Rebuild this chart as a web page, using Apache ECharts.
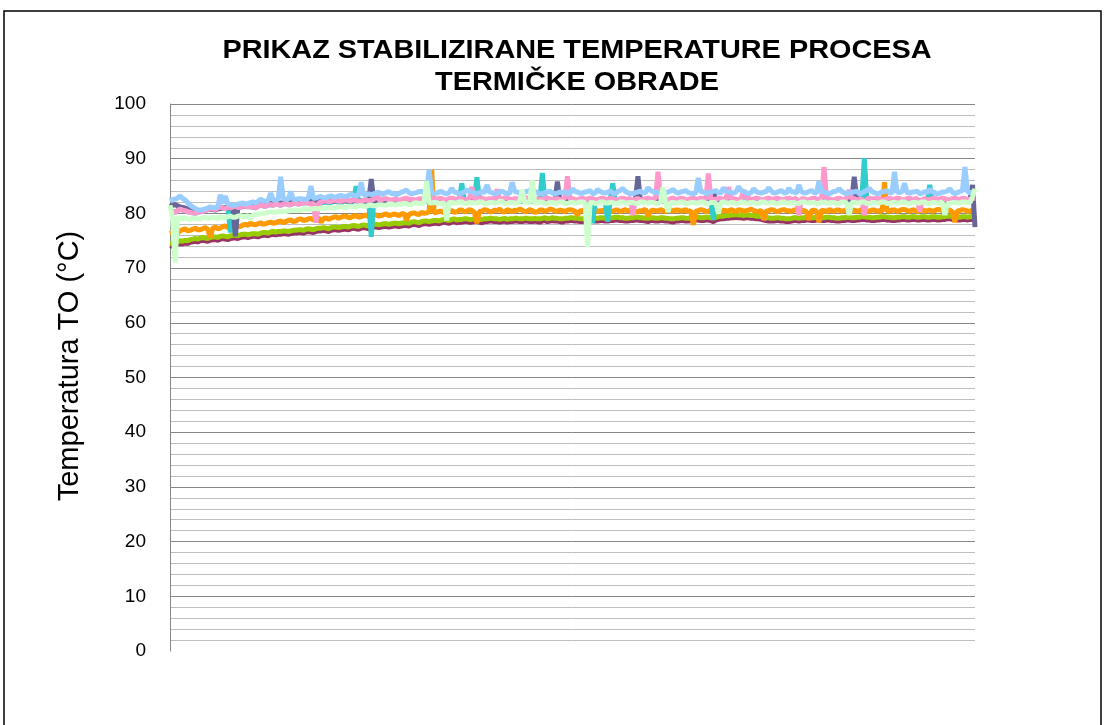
<!DOCTYPE html>
<html>
<head>
<meta charset="utf-8">
<title>Prikaz stabilizirane temperature procesa termičke obrade</title>
<script src="https://cdn.jsdelivr.net/npm/echarts@6/dist/echarts.min.js"></script>
<style>
  html, body { margin: 0; padding: 0; background: #fff; }
  #chart { width: 1106px; height: 725px; }
</style>
</head>
<body>
<div id="chart"></div>
<script>
// Temperature readings (°C) of the heat-treatment process, one array per measuring channel,
// 321 consecutive samples each.
const yTicks = [0, 10, 20, 30, 40, 50, 60, 70, 80, 90, 100];

const tMaroon = [
  74.1, 74.0, 74.2, 74.3, 74.5, 74.4, 74.6, 74.5, 74.7, 74.8, 74.9, 74.8, 75.0, 75.1, 75.0, 74.9, 75.1, 75.2, 75.2, 75.1,
  75.3, 75.4, 75.3, 75.2, 75.4, 75.5, 75.5, 75.4, 75.6, 75.7, 75.7, 75.6, 75.7, 75.8, 75.8, 75.7, 75.9, 76.0, 76.0, 75.9,
  76.1, 76.2, 76.1, 76.2, 76.2, 76.3, 76.3, 76.2, 76.3, 76.4, 76.4, 76.5, 76.5, 76.4, 76.6, 76.7, 76.6, 76.5, 76.7, 76.8,
  76.8, 76.9, 76.8, 76.7, 76.9, 77.0, 77.0, 76.9, 77.0, 77.1, 77.1, 77.0, 77.2, 77.3, 77.2, 77.1, 77.3, 77.4, 77.3, 77.2,
  77.4, 77.5, 77.5, 77.4, 77.5, 77.6, 77.6, 77.5, 77.6, 77.7, 77.7, 77.6, 77.7, 77.8, 77.8, 77.7, 77.9, 78.0, 77.9, 77.8,
  78.0, 78.1, 78.1, 78.0, 78.1, 78.2, 78.2, 78.1, 78.3, 78.4, 78.3, 78.2, 78.4, 78.5, 78.3, 78.4, 78.4, 78.5, 78.5, 78.4,
  78.4, 78.5, 78.5, 78.4, 78.3, 78.5, 78.5, 78.6, 78.6, 78.5, 78.5, 78.4, 78.5, 78.6, 78.4, 78.5, 78.5, 78.6, 78.6, 78.5,
  78.5, 78.6, 78.6, 78.5, 78.5, 78.6, 78.5, 78.4, 78.6, 78.7, 78.5, 78.6, 78.7, 78.6, 78.6, 78.5, 78.4, 78.6, 78.6, 78.7,
  78.7, 78.6, 78.6, 78.5, 78.5, 78.6, 78.6, 78.7, 78.7, 78.6, 78.6, 78.7, 78.7, 78.6, 78.6, 78.7, 78.7, 78.8, 78.8, 78.7,
  78.7, 78.6, 78.6, 78.7, 78.7, 78.8, 78.8, 78.7, 78.7, 78.6, 78.5, 78.7, 78.7, 78.6, 78.6, 78.7, 78.7, 78.6, 78.6, 78.5,
  78.4, 78.6, 78.6, 78.7, 78.7, 78.6, 78.6, 78.7, 78.7, 78.8, 78.8, 78.7, 78.7, 78.8, 78.8, 78.7, 78.5, 78.8, 78.9, 79.0,
  79.0, 79.1, 79.1, 79.2, 79.2, 79.3, 79.2, 79.2, 79.1, 79.2, 79.2, 79.1, 79.1, 79.0, 79.0, 78.9, 78.8, 78.7, 78.6, 78.6,
  78.6, 78.7, 78.7, 78.6, 78.6, 78.5, 78.5, 78.6, 78.7, 78.7, 78.6, 78.7, 78.7, 78.8, 78.8, 78.7, 78.7, 78.8, 78.8, 78.7,
  78.7, 78.8, 78.8, 78.7, 78.7, 78.6, 78.6, 78.7, 78.7, 78.8, 78.8, 78.7, 78.7, 78.8, 78.8, 78.9, 78.9, 78.8, 78.8, 78.7,
  78.7, 78.8, 78.8, 78.9, 78.9, 78.8, 78.8, 78.7, 78.7, 78.8, 78.8, 78.9, 78.9, 78.8, 78.8, 78.9, 78.9, 78.8, 78.8, 78.9,
  78.9, 78.8, 78.8, 78.9, 78.9, 78.8, 78.8, 78.9, 78.9, 79.0, 79.0, 78.9, 78.9, 78.8, 78.8, 78.9, 78.9, 78.8, 78.9, 78.9,
  78.9
];

const tGreen = [
  74.6, 74.5, 74.7, 74.8, 75.0, 74.9, 75.1, 75.0, 75.2, 75.3, 75.4, 75.3, 75.5, 75.6, 75.5, 75.4, 75.6, 75.7, 75.7, 75.6,
  75.8, 75.9, 75.8, 75.7, 75.9, 76.0, 76.0, 75.9, 76.1, 76.2, 76.2, 76.1, 76.2, 76.3, 76.3, 76.2, 76.4, 76.5, 76.5, 76.4,
  76.6, 76.7, 76.6, 76.7, 76.7, 76.8, 76.8, 76.7, 76.8, 76.9, 76.9, 77.0, 77.0, 76.9, 77.1, 77.2, 77.1, 77.0, 77.2, 77.3,
  77.3, 77.4, 77.3, 77.2, 77.4, 77.5, 77.5, 77.4, 77.5, 77.6, 77.6, 77.5, 77.7, 77.8, 77.7, 77.6, 77.8, 77.9, 77.8, 77.7,
  77.9, 78.0, 78.0, 77.9, 78.0, 78.1, 78.1, 78.0, 78.1, 78.2, 78.2, 78.1, 78.2, 78.3, 78.3, 78.2, 78.4, 78.5, 78.4, 78.3,
  78.5, 78.6, 78.6, 78.5, 78.6, 78.7, 78.7, 78.6, 78.8, 78.9, 78.8, 78.7, 78.9, 79.0, 78.8, 78.9, 78.9, 79.0, 79.0, 78.9,
  78.9, 79.0, 79.0, 78.9, 78.9, 79.0, 79.0, 79.1, 79.1, 79.0, 79.0, 78.9, 79.0, 79.1, 78.9, 79.0, 79.0, 79.1, 79.1, 79.0,
  79.0, 79.1, 79.1, 79.0, 79.0, 79.1, 79.0, 79.0, 79.1, 79.2, 79.0, 79.1, 79.2, 79.1, 79.1, 79.0, 79.0, 79.1, 79.1, 79.2,
  79.2, 79.1, 79.1, 79.0, 79.0, 79.1, 79.1, 79.2, 79.2, 79.1, 79.1, 79.2, 79.2, 79.1, 79.1, 79.2, 79.2, 79.3, 79.3, 79.2,
  79.2, 79.1, 79.1, 79.2, 79.2, 79.3, 79.3, 79.2, 79.2, 79.1, 79.1, 79.2, 79.2, 79.1, 79.1, 79.2, 79.2, 79.1, 79.1, 79.0,
  79.0, 79.1, 79.1, 79.2, 79.2, 79.1, 79.1, 79.2, 79.2, 79.3, 79.3, 79.2, 79.2, 79.3, 79.3, 79.2, 79.2, 79.3, 79.4, 79.5,
  79.5, 79.6, 79.6, 79.7, 79.7, 79.8, 79.7, 79.7, 79.6, 79.7, 79.7, 79.6, 79.6, 79.5, 79.5, 79.4, 79.3, 79.2, 79.2, 79.1,
  79.1, 79.2, 79.2, 79.1, 79.1, 79.0, 79.0, 79.1, 79.2, 79.2, 79.1, 79.2, 79.2, 79.3, 79.3, 79.2, 79.2, 79.3, 79.3, 79.2,
  79.2, 79.3, 79.3, 79.2, 79.2, 79.1, 79.1, 79.2, 79.2, 79.3, 79.3, 79.2, 79.2, 79.3, 79.3, 79.4, 79.4, 79.3, 79.3, 79.2,
  79.2, 79.3, 79.3, 79.4, 79.4, 79.3, 79.3, 79.2, 79.2, 79.3, 79.3, 79.4, 79.4, 79.3, 79.3, 79.4, 79.4, 79.3, 79.3, 79.4,
  79.4, 79.3, 79.3, 79.4, 79.4, 79.3, 79.3, 79.4, 79.4, 79.5, 79.5, 79.4, 79.4, 79.3, 79.3, 79.4, 79.4, 79.3, 79.4, 79.4,
  79.4
];

const tOrange = [
  76.3, 76.5, 76.0, 76.4, 76.8, 77.0, 77.2, 76.8, 76.9, 77.1, 77.3, 77.0, 77.0, 77.2, 77.4, 77.1, 75.6, 77.3, 77.5, 77.2,
  77.3, 77.6, 77.7, 77.4, 77.5, 77.8, 77.9, 77.6, 77.6, 77.9, 78.0, 77.8, 78.2, 78.0, 77.9, 78.1, 78.3, 78.0, 78.1, 78.3,
  78.4, 78.2, 78.3, 78.5, 78.6, 78.3, 78.5, 78.7, 78.8, 78.5, 78.6, 78.9, 79.0, 78.7, 78.8, 79.0, 79.1, 78.8, 79.0, 79.2,
  78.4, 79.0, 79.2, 78.9, 79.1, 79.3, 79.4, 79.1, 79.3, 79.5, 79.5, 79.2, 79.3, 79.5, 79.6, 79.3, 79.4, 79.6, 79.7, 79.4,
  79.5, 79.7, 79.7, 79.5, 79.6, 79.8, 79.9, 79.6, 79.7, 79.9, 79.8, 79.6, 79.9, 80.0, 78.8, 79.8, 80.0, 80.1, 79.9, 79.8,
  80.2, 80.0, 80.1, 80.3, 88.0, 80.1, 80.2, 80.4, 80.4, 80.1, 80.3, 80.5, 80.5, 80.2, 80.3, 80.6, 80.6, 80.3, 80.4, 80.7,
  80.5, 80.2, 78.2, 80.4, 80.4, 80.7, 80.6, 80.3, 80.3, 80.6, 80.5, 80.8, 80.4, 80.2, 80.7, 80.5, 80.3, 80.6, 80.5, 80.8,
  80.6, 80.3, 80.4, 80.7, 80.5, 80.2, 80.3, 80.6, 80.6, 80.4, 80.5, 80.8, 80.7, 80.4, 80.4, 80.6, 80.5, 80.3, 80.6, 80.7,
  80.6, 80.4, 79.7, 80.5, 80.5, 80.7, 80.4, 80.3, 80.6, 80.8, 80.3, 80.5, 80.5, 80.7, 80.7, 80.4, 80.4, 80.6, 80.6, 80.3,
  80.5, 80.7, 80.4, 80.6, 80.6, 80.3, 80.3, 80.5, 80.5, 80.8, 79.5, 80.4, 80.6, 80.5, 80.4, 80.7, 80.5, 80.3, 80.7, 80.6,
  80.4, 80.6, 80.6, 80.4, 80.5, 80.7, 80.3, 80.5, 77.9, 80.4, 80.5, 80.7, 80.6, 80.3, 80.4, 80.6, 80.7, 80.5, 80.5, 80.3,
  80.6, 80.5, 80.4, 80.7, 80.5, 80.3, 80.7, 80.6, 80.4, 80.5, 80.6, 80.8, 80.5, 80.4, 80.3, 80.6, 78.8, 80.4, 80.5, 80.7,
  80.6, 80.3, 80.4, 80.6, 80.7, 80.5, 80.5, 80.3, 80.6, 80.7, 80.4, 80.6, 80.5, 80.3, 78.8, 80.5, 80.6, 80.4, 78.4, 80.6,
  80.5, 80.3, 80.7, 80.5, 80.4, 80.6, 80.6, 80.4, 80.5, 80.7, 80.3, 80.5, 80.6, 80.4, 80.5, 80.7, 80.7, 80.5, 80.4, 80.6,
  80.6, 80.4, 80.5, 80.3, 85.7, 80.5, 80.4, 80.6, 80.6, 80.4, 80.5, 80.7, 80.7, 80.5, 80.4, 80.6, 80.6, 80.3, 80.5, 80.7,
  80.4, 80.5, 80.6, 80.4, 80.5, 80.7, 80.7, 80.5, 80.4, 80.6, 80.6, 80.3, 78.4, 80.5, 80.5, 80.7, 80.6, 80.4, 80.4, 80.6,
  80.5
];

const tTeal = [
  80.6, 80.4, 80.2, 80.5, 80.8, 80.6, 80.5, 80.3, 80.2, 80.1, 80.0, 80.2, 80.3, 80.4, 80.5, 80.7, 81.0, 80.8, 80.7, 81.0,
  81.2, 81.0, 80.9, 81.1, 76.5, 81.2, 81.3, 81.1, 81.1, 81.3, 81.4, 81.2, 81.2, 81.1, 81.0, 81.3, 81.5, 81.4, 81.3, 81.5,
  81.6, 81.5, 81.7, 81.6, 81.5, 81.7, 81.8, 81.6, 81.6, 81.8, 81.9, 81.7, 81.8, 81.9, 82.0, 81.8, 84.3, 81.9, 81.8, 81.8,
  81.9, 82.0, 82.1, 81.9, 82.0, 82.2, 82.2, 82.0, 82.0, 82.2, 82.3, 82.1, 82.1, 82.3, 85.0, 82.0, 82.0, 82.2, 82.3, 82.1,
  75.7, 82.3, 82.2, 82.2, 82.2, 82.4, 82.4, 82.2, 82.1, 82.3, 82.3, 82.1, 82.2, 82.4, 82.5, 82.3, 82.3, 82.2, 82.1, 82.4,
  82.4, 82.2, 82.2, 82.4, 82.5, 82.3, 82.3, 82.5, 82.4, 82.2, 82.2, 82.4, 82.5, 82.3, 82.3, 82.5, 85.5, 82.2, 82.2, 82.4,
  82.3, 82.4, 86.6, 82.5, 82.5, 82.3, 82.2, 82.4, 82.4, 82.2, 82.3, 82.3, 82.3, 82.5, 82.5, 82.3, 82.2, 82.4, 82.4, 82.2,
  82.3, 82.5, 82.5, 82.3, 82.2, 82.4, 82.4, 82.2, 87.4, 82.5, 82.5, 82.3, 82.2, 82.4, 82.4, 82.2, 82.3, 82.5, 82.3, 82.3,
  82.4, 82.2, 82.2, 82.4, 82.5, 82.3, 82.3, 82.5, 78.2, 82.2, 82.2, 82.4, 82.5, 82.3, 78.5, 82.5, 85.5, 82.2, 82.2, 82.4,
  82.5, 82.3, 82.3, 82.5, 82.3, 82.4, 82.4, 82.2, 82.2, 82.4, 82.5, 82.3, 82.3, 82.5, 82.3, 82.4, 82.4, 82.2, 82.2, 82.4,
  82.5, 82.3, 82.3, 82.5, 82.4, 82.2, 82.2, 82.4, 82.5, 82.3, 82.3, 82.5, 82.4, 82.2, 82.3, 82.4, 78.8, 82.3, 82.5, 82.4,
  82.3, 82.2, 82.3, 82.4, 82.4, 82.3, 82.2, 82.4, 82.3, 82.5, 82.5, 82.3, 82.3, 82.5, 82.4, 82.2, 82.2, 82.4, 82.5, 82.3,
  82.3, 82.5, 82.4, 82.2, 82.2, 82.4, 82.5, 82.3, 82.3, 82.5, 82.3, 82.4, 82.4, 82.2, 82.2, 82.4, 82.5, 82.3, 82.3, 82.5,
  82.3, 82.3, 82.4, 82.2, 82.2, 82.4, 82.5, 82.3, 82.3, 82.5, 82.3, 82.4, 82.4, 82.2, 82.2, 82.4, 90.1, 82.3, 82.5, 82.4,
  82.3, 82.5, 82.4, 82.2, 82.2, 82.4, 82.5, 82.3, 82.3, 82.5, 82.4, 82.2, 82.2, 82.4, 82.5, 82.3, 82.3, 82.5, 82.3, 82.2,
  82.4, 82.2, 85.2, 82.4, 82.5, 82.3, 82.3, 82.5, 82.4, 82.2, 82.2, 82.4, 82.5, 82.3, 82.3, 82.5, 82.4, 82.2, 82.3, 82.4,
  82.5
];

const tSlate = [
  81.3, 81.5, 81.6, 81.4, 81.2, 81.1, 81.0, 80.8, 80.7, 80.6, 80.5, 80.4, 80.4, 80.5, 80.6, 80.7, 80.8, 80.7, 80.6, 80.8,
  80.9, 81.0, 81.1, 81.0, 81.0, 81.1, 75.8, 81.2, 81.3, 81.3, 81.4, 81.4, 81.5, 81.5, 81.6, 81.6, 81.6, 81.7, 81.7, 81.7,
  81.8, 81.8, 81.8, 81.9, 81.9, 81.9, 82.0, 82.0, 82.0, 82.1, 82.1, 82.1, 82.1, 82.2, 82.2, 82.2, 82.2, 82.2, 82.2, 82.2,
  82.3, 82.2, 82.2, 82.3, 82.3, 82.2, 82.3, 82.3, 82.2, 82.3, 82.3, 82.2, 82.2, 82.3, 82.3, 82.2, 82.3, 82.3, 82.2, 82.3,
  86.3, 82.3, 82.2, 82.3, 82.3, 82.2, 82.2, 82.3, 82.3, 82.2, 82.3, 82.3, 82.2, 82.3, 82.3, 82.2, 82.2, 82.3, 82.3, 82.2,
  82.3, 82.3, 82.2, 82.3, 82.3, 82.2, 82.2, 82.3, 82.3, 82.2, 82.3, 82.3, 82.2, 82.3, 82.3, 82.2, 82.2, 82.3, 82.3, 82.2,
  82.3, 82.3, 82.2, 82.3, 82.3, 82.2, 82.2, 82.3, 82.3, 82.2, 82.3, 82.3, 82.2, 82.3, 82.3, 82.2, 82.2, 82.3, 82.3, 82.2,
  82.3, 82.3, 82.2, 82.3, 82.3, 82.2, 82.2, 82.3, 82.3, 82.2, 82.3, 82.3, 82.2, 82.3, 85.8, 82.2, 82.2, 82.3, 82.3, 82.2,
  82.3, 82.3, 82.2, 82.3, 82.3, 82.2, 82.2, 82.3, 82.3, 82.2, 82.3, 82.3, 82.2, 82.3, 82.3, 82.2, 82.2, 82.3, 82.3, 82.2,
  82.3, 82.3, 82.2, 82.3, 82.3, 82.2, 86.8, 82.3, 82.3, 82.2, 82.3, 82.3, 82.2, 82.3, 82.3, 82.2, 82.2, 82.3, 82.3, 82.2,
  82.3, 82.3, 82.2, 82.3, 82.3, 82.2, 82.2, 82.3, 82.3, 82.2, 82.3, 82.3, 82.2, 82.3, 82.3, 82.2, 84.0, 82.3, 82.3, 82.2,
  82.3, 82.3, 82.2, 82.3, 82.3, 82.2, 82.2, 82.3, 82.3, 82.2, 82.3, 82.3, 82.2, 82.3, 82.3, 82.2, 82.2, 82.3, 82.3, 82.2,
  82.3, 82.3, 82.2, 82.3, 82.3, 82.2, 82.2, 82.3, 82.3, 82.2, 82.3, 82.3, 82.2, 82.3, 82.3, 82.2, 82.2, 82.3, 82.3, 82.2,
  82.3, 82.3, 82.2, 82.3, 82.3, 82.2, 82.2, 82.3, 82.3, 82.2, 82.3, 82.3, 86.7, 82.3, 82.3, 82.2, 82.2, 82.3, 82.3, 82.2,
  82.3, 82.3, 82.2, 82.3, 82.3, 82.2, 82.2, 82.3, 82.3, 82.2, 82.3, 82.3, 82.2, 82.3, 82.3, 82.2, 82.2, 82.3, 82.3, 82.2,
  82.3, 82.3, 82.2, 82.3, 82.3, 82.2, 82.2, 82.3, 82.3, 82.2, 82.3, 82.3, 82.2, 82.3, 82.3, 82.2, 82.2, 82.3, 82.3, 85.2,
  77.5
];

const tPink = [
  80.6, 80.4, 80.2, 80.5, 80.8, 80.6, 80.5, 80.3, 80.2, 80.1, 80.0, 80.2, 80.3, 80.4, 80.5, 80.7, 81.0, 80.8, 80.7, 81.0,
  81.2, 81.0, 80.9, 81.1, 81.0, 81.2, 81.3, 81.1, 81.1, 81.3, 81.4, 81.2, 81.2, 81.1, 81.0, 81.3, 81.5, 81.4, 81.3, 81.5,
  81.6, 81.5, 81.7, 81.6, 81.5, 81.7, 81.8, 81.6, 81.6, 81.8, 81.9, 81.7, 81.8, 81.9, 82.0, 81.8, 81.7, 81.9, 78.3, 81.8,
  82.1, 82.2, 82.3, 82.1, 82.2, 82.4, 82.4, 82.2, 82.2, 82.4, 82.5, 82.3, 82.3, 82.5, 82.4, 82.2, 82.2, 82.4, 82.5, 82.3,
  82.4, 82.6, 83.8, 82.5, 82.5, 82.7, 82.7, 82.5, 82.4, 82.6, 82.6, 82.4, 82.5, 82.7, 82.8, 82.6, 82.6, 82.5, 82.4, 82.7,
  82.7, 82.5, 82.5, 82.7, 82.8, 82.6, 82.6, 82.8, 82.7, 82.5, 82.5, 82.7, 82.8, 82.6, 82.6, 82.8, 82.7, 82.5, 82.5, 82.7,
  84.8, 82.7, 82.6, 82.8, 82.8, 82.6, 82.5, 82.7, 82.7, 82.5, 84.4, 82.6, 82.6, 82.8, 82.8, 82.6, 82.5, 82.7, 82.7, 82.5,
  82.6, 82.8, 82.8, 82.6, 82.5, 82.7, 82.7, 82.5, 82.6, 82.8, 82.8, 82.6, 82.5, 82.7, 82.7, 82.5, 82.6, 82.8, 86.8, 82.6,
  82.7, 82.5, 82.5, 82.7, 82.8, 82.6, 82.6, 82.8, 82.7, 82.5, 82.5, 82.7, 82.8, 82.6, 82.6, 82.8, 82.7, 82.5, 82.5, 82.7,
  82.8, 82.6, 82.6, 82.8, 79.7, 82.7, 82.7, 82.5, 82.5, 82.7, 82.8, 82.6, 82.6, 82.8, 87.6, 82.7, 82.7, 82.5, 82.5, 82.7,
  82.8, 82.6, 82.6, 82.8, 82.7, 82.5, 82.5, 82.7, 82.8, 82.6, 82.6, 82.8, 82.7, 82.5, 87.3, 82.7, 82.5, 82.6, 82.8, 82.7,
  82.6, 82.5, 84.8, 82.7, 82.7, 82.6, 82.5, 82.7, 84.3, 82.8, 82.8, 82.6, 82.6, 82.8, 82.7, 82.5, 82.5, 82.7, 82.8, 82.6,
  82.6, 82.8, 82.7, 82.5, 82.5, 82.7, 82.8, 82.6, 82.6, 82.8, 79.7, 82.7, 82.7, 82.5, 82.5, 82.7, 82.8, 82.6, 82.6, 82.8,
  88.5, 82.6, 82.7, 82.5, 82.5, 82.7, 82.8, 82.6, 82.6, 82.8, 84.3, 82.7, 82.7, 82.5, 82.5, 82.7, 79.7, 82.6, 82.8, 82.7,
  82.6, 82.8, 82.7, 82.5, 82.5, 82.7, 82.8, 82.6, 82.6, 82.8, 82.7, 82.5, 82.5, 82.7, 82.8, 82.6, 82.6, 82.8, 80.3, 82.5,
  82.7, 82.5, 82.5, 82.7, 82.8, 82.6, 82.6, 82.8, 82.7, 82.5, 82.5, 82.7, 82.8, 82.6, 82.6, 82.8, 82.7, 82.5, 82.6, 82.7,
  82.8
];

const tBlue = [
  82.3, 82.5, 82.6, 82.8, 83.2, 82.7, 82.5, 82.0, 81.5, 81.2, 80.9, 80.7, 80.6, 80.7, 80.8, 81.0, 81.2, 81.1, 81.0, 81.3,
  83.4, 81.8, 83.2, 81.7, 81.6, 81.5, 81.5, 81.7, 81.8, 81.9, 81.7, 81.8, 82.0, 82.1, 81.9, 82.2, 82.6, 82.3, 82.2, 82.4,
  83.7, 82.5, 82.4, 82.6, 86.7, 82.7, 82.6, 82.5, 84.0, 82.6, 82.5, 82.7, 82.7, 82.6, 82.6, 82.8, 85.0, 82.7, 82.8, 83.0,
  83.1, 82.9, 82.8, 83.1, 83.2, 83.0, 83.0, 83.2, 83.3, 83.1, 83.1, 83.3, 83.5, 83.3, 83.2, 83.4, 85.7, 83.3, 83.4, 83.6,
  83.4, 83.6, 83.7, 83.9, 83.5, 83.6, 83.8, 84.0, 83.6, 83.7, 83.4, 83.6, 83.9, 84.0, 84.3, 83.8, 83.6, 83.7, 83.8, 84.0,
  84.0, 83.9, 83.8, 88.0, 83.8, 83.6, 83.7, 83.9, 84.0, 83.7, 83.6, 83.8, 84.6, 83.9, 83.8, 83.6, 83.7, 83.9, 84.3, 84.0,
  83.9, 83.7, 83.6, 83.8, 84.0, 83.8, 85.2, 83.9, 83.8, 83.6, 83.7, 83.9, 84.1, 83.8, 83.6, 83.7, 85.7, 84.0, 83.9, 83.7,
  83.7, 83.9, 84.0, 84.2, 84.6, 84.0, 83.8, 83.6, 83.6, 83.8, 83.9, 84.1, 83.7, 83.6, 83.7, 83.9, 83.8, 84.0, 83.6, 83.7,
  84.5, 84.0, 83.9, 83.7, 83.7, 83.9, 84.0, 84.2, 83.6, 83.7, 84.4, 84.0, 83.8, 83.7, 83.9, 84.1, 83.7, 83.6, 84.0, 84.2,
  84.6, 84.0, 83.8, 83.6, 83.6, 83.8, 83.9, 84.1, 83.7, 83.8, 84.7, 84.2, 84.0, 83.8, 83.8, 83.6, 83.6, 83.8, 83.9, 84.1,
  84.4, 83.9, 83.7, 83.9, 84.0, 84.2, 83.8, 83.7, 83.6, 83.8, 86.5, 84.0, 83.9, 83.7, 83.7, 83.9, 84.0, 84.2, 83.8, 83.7,
  84.7, 84.1, 83.9, 83.8, 83.7, 83.9, 84.9, 84.2, 84.0, 83.8, 83.6, 83.8, 84.5, 84.0, 83.8, 83.7, 83.9, 84.0, 84.7, 84.1,
  83.7, 83.8, 84.0, 84.2, 83.8, 83.7, 84.6, 84.0, 83.9, 83.7, 85.2, 84.0, 83.7, 83.8, 84.0, 84.2, 83.8, 83.7, 85.9, 84.0,
  83.9, 83.7, 83.6, 83.8, 84.0, 84.1, 84.5, 84.0, 83.8, 83.6, 83.7, 83.9, 83.9, 84.1, 83.6, 83.7, 84.0, 84.2, 84.6, 84.0,
  83.8, 83.6, 83.7, 83.9, 84.0, 84.2, 83.8, 83.7, 87.6, 83.9, 83.8, 84.0, 85.5, 83.8, 83.7, 83.9, 83.9, 84.1, 83.6, 83.7,
  84.0, 83.8, 84.4, 84.0, 83.8, 83.6, 83.7, 83.9, 83.9, 84.1, 84.5, 83.9, 83.6, 83.8, 84.0, 84.2, 88.5, 84.0, 83.8, 83.9,
  83.9
];

const tLightGreen = [
  81.5, 79.0, 71.0, 79.3, 79.1, 79.0, 79.2, 79.0, 78.9, 79.1, 79.1, 79.0, 79.0, 79.2, 79.3, 79.1, 79.1, 79.3, 79.2, 79.0,
  79.4, 79.2, 79.2, 79.4, 79.5, 79.3, 79.3, 79.5, 79.6, 79.4, 79.4, 79.6, 79.0, 79.7, 79.8, 79.9, 79.9, 80.0, 80.1, 80.2,
  80.3, 80.2, 80.2, 80.3, 80.4, 80.3, 80.3, 80.5, 80.5, 80.6, 80.6, 80.5, 80.6, 80.8, 80.8, 80.7, 80.7, 80.9, 80.9, 80.8,
  81.0, 80.9, 80.9, 81.1, 81.1, 81.0, 81.0, 81.2, 81.2, 81.1, 81.1, 81.3, 81.3, 81.2, 81.2, 81.4, 81.4, 81.3, 81.3, 81.5,
  81.5, 81.4, 81.4, 81.6, 81.6, 81.5, 81.5, 81.7, 81.7, 81.6, 81.6, 81.7, 81.7, 81.8, 81.8, 81.6, 81.6, 81.9, 81.9, 81.8,
  81.8, 81.9, 85.9, 81.9, 81.9, 82.0, 82.0, 81.8, 81.8, 81.9, 78.7, 82.0, 82.0, 81.9, 81.9, 82.1, 82.1, 81.8, 81.8, 82.0,
  82.0, 81.9, 81.9, 82.1, 82.1, 81.8, 81.8, 82.0, 82.0, 81.9, 81.9, 82.2, 82.2, 81.8, 81.8, 82.0, 82.0, 81.9, 81.9, 82.1,
  84.3, 82.0, 82.0, 81.9, 86.0, 81.9, 81.9, 82.1, 82.1, 81.8, 81.8, 82.0, 82.0, 81.9, 81.9, 82.1, 82.1, 81.8, 81.8, 82.0,
  82.0, 81.9, 81.9, 82.1, 82.1, 81.9, 73.9, 82.0, 82.0, 81.8, 81.8, 82.1, 82.1, 81.9, 81.9, 82.0, 82.0, 81.8, 81.8, 82.1,
  82.1, 81.9, 81.9, 82.0, 82.0, 81.8, 81.8, 82.1, 82.1, 81.9, 81.9, 82.0, 82.0, 81.8, 81.8, 82.0, 84.8, 82.0, 80.3, 82.0,
  82.0, 81.9, 81.9, 82.1, 82.1, 81.8, 81.8, 82.0, 82.0, 81.9, 81.9, 82.1, 82.1, 81.8, 81.8, 82.0, 82.0, 81.9, 80.0, 82.0,
  82.1, 81.9, 81.9, 82.0, 82.0, 81.8, 81.8, 82.1, 82.1, 81.9, 81.9, 82.0, 82.0, 81.8, 81.8, 82.1, 82.1, 81.9, 81.9, 82.0,
  82.0, 81.8, 81.8, 82.1, 82.1, 81.9, 81.9, 82.0, 82.0, 81.8, 81.8, 82.1, 82.1, 81.9, 81.9, 82.0, 82.0, 81.8, 81.8, 82.1,
  82.1, 81.9, 81.9, 82.0, 82.0, 81.8, 81.8, 82.1, 82.1, 81.9, 79.7, 82.0, 82.0, 81.9, 81.9, 82.1, 82.1, 81.8, 81.8, 82.0,
  82.0, 81.9, 81.9, 82.1, 82.1, 81.8, 81.8, 82.0, 82.0, 81.9, 81.9, 82.1, 82.1, 81.8, 81.8, 82.0, 82.0, 81.9, 81.9, 82.1,
  82.1, 81.8, 81.8, 82.0, 82.0, 81.9, 81.9, 82.1, 79.7, 81.8, 81.8, 82.0, 82.0, 81.9, 81.9, 82.1, 82.1, 82.0, 82.0, 83.0,
  84.5
];

// painting order: first channel is drawn first (lowest)
const channels = [
  { name: 'T1', color: '#993366', data: tMaroon },
  { name: 'T2', color: '#99CC00', data: tGreen },
  { name: 'T3', color: '#FF9900', data: tOrange },
  { name: 'T4', color: '#33CCCC', data: tTeal },
  { name: 'T5', color: '#666699', data: tSlate },
  { name: 'T6', color: '#FF99CC', data: tPink },
  { name: 'T7', color: '#99CCFF', data: tBlue },
  { name: 'T8', color: '#CCFFCC', data: tLightGreen }
];

const FONT = '"Liberation Sans", Arial, sans-serif';
const chart = echarts.init(document.getElementById('chart'), null, { renderer: 'canvas' });

chart.setOption({
  animation: false,
  backgroundColor: '#ffffff',
  grid: { left: 170, right: 131, top: 104, bottom: 74, containLabel: false },
  xAxis: {
    type: 'category',
    boundaryGap: false,
    axisLine: { show: false },
    axisTick: { show: false },
    axisLabel: { show: false },
    splitLine: { show: false }
  },
  yAxis: {
    type: 'value',
    min: yTicks[0],
    max: yTicks[yTicks.length - 1],
    interval: 10,
    axisLine: { show: true, lineStyle: { color: '#868686', width: 1 } },
    axisTick: { show: false },
    axisLabel: { color: '#000', fontSize: 19, fontFamily: FONT, margin: 24 },
    splitLine: { show: true, showMinLine: false, lineStyle: { color: '#868686', width: 1 } },
    minorTick: { show: false, splitNumber: 5 },
    minorSplitLine: { show: true, lineStyle: { color: '#bdbdbd', width: 1 } }
  },
  series: channels.map(c => ({
    name: c.name,
    type: 'line',
    data: c.data,
    showSymbol: false,
    symbol: 'none',
    lineStyle: { color: c.color, width: 5, join: 'bevel' },
    itemStyle: { color: c.color },
    emphasis: { disabled: true }
  })),
  graphic: [
    {
      type: 'rect', z: 100, silent: true,
      shape: { x: 4, y: 11, width: 1097, height: 740 },
      style: { fill: 'none', stroke: '#000', lineWidth: 1.5 }
    },
    {
      type: 'text', z: 100, x: 577, y: 51, scaleX: 1.11,
      style: {
        text: 'PRIKAZ STABILIZIRANE TEMPERATURE PROCESA',
        font: 'bold 26px ' + FONT, fill: '#000',
        textAlign: 'center', textVerticalAlign: 'middle', align: 'center', verticalAlign: 'middle'
      }
    },
    {
      type: 'text', z: 100, x: 577, y: 83, scaleX: 1.11,
      style: {
        text: 'TERMIČKE OBRADE',
        font: 'bold 26px ' + FONT, fill: '#000',
        textAlign: 'center', textVerticalAlign: 'middle', align: 'center', verticalAlign: 'middle'
      }
    },
    {
      type: 'text', z: 100, x: 70, y: 366, rotation: Math.PI / 2,
      style: {
        text: 'Temperatura TO (°C)',
        font: '29px ' + FONT, fill: '#000',
        textAlign: 'center', textVerticalAlign: 'middle', align: 'center', verticalAlign: 'middle'
      }
    }
  ]
});
</script>
</body>
</html>
